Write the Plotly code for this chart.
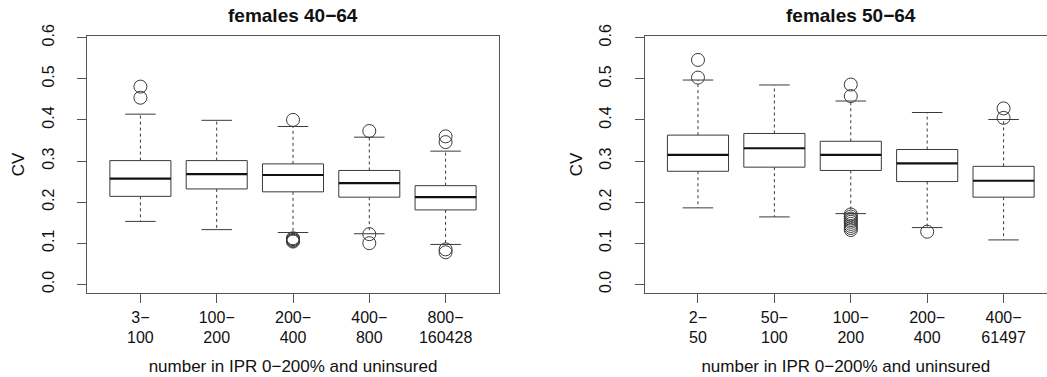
import plotly.graph_objects as go

# ---- data: five-number summaries and outliers per group ----
panel_titles = ["females 40\u221264", "females 50\u221264"]
x_title = "number in IPR 0\u2212200% and uninsured"
y_title = "CV"

labels_40_64 = ["3\u2212<br>100", "100\u2212<br>200", "200\u2212<br>400", "400\u2212<br>800", "800\u2212<br>160428"]
low_40_64 = [0.153, 0.133, 0.126, 0.123, 0.097]
q1_40_64 = [0.214, 0.232, 0.225, 0.212, 0.181]
med_40_64 = [0.257, 0.268, 0.266, 0.246, 0.212]
q3_40_64 = [0.301, 0.301, 0.293, 0.277, 0.240]
high_40_64 = [0.414, 0.399, 0.384, 0.358, 0.324]
out_40_64 = [
    [0.481, 0.454],
    [],
    [0.400, 0.112, 0.110, 0.108, 0.106, 0.104],
    [0.373, 0.122, 0.100],
    [0.360, 0.346, 0.085, 0.078],
]

labels_50_64 = ["2\u2212<br>50", "50\u2212<br>100", "100\u2212<br>200", "200\u2212<br>400", "400\u2212<br>61497"]
low_50_64 = [0.186, 0.164, 0.172, 0.138, 0.108]
q1_50_64 = [0.275, 0.285, 0.277, 0.250, 0.212]
med_50_64 = [0.315, 0.331, 0.315, 0.294, 0.252]
q3_50_64 = [0.363, 0.367, 0.348, 0.328, 0.287]
high_50_64 = [0.497, 0.485, 0.446, 0.418, 0.401]
out_50_64 = [
    [0.546, 0.503],
    [],
    [0.486, 0.458, 0.170, 0.165, 0.160, 0.156, 0.152, 0.147, 0.142, 0.137, 0.132],
    [0.128],
    [0.428, 0.405],
]

FONT = "Liberation Sans, Arial, Helvetica, sans-serif"
LINE = "#3a3a3a"
FRAME = "#555555"
BOX_HALF = 0.4     # boxwex 0.8
CAP_HALF = 0.2     # staple half width

fig = go.Figure()


def add_boxplot(xref, yref, low, q1, med, q3, high, outs):
    n = len(med)
    pos = list(range(1, n + 1))
    bx, by, mx, my, wx, wy, cx, cy, ox, oy = [], [], [], [], [], [], [], [], [], []
    for i, p in enumerate(pos):
        bx += [p - BOX_HALF, p + BOX_HALF, p + BOX_HALF, p - BOX_HALF, p - BOX_HALF, None]
        by += [q1[i], q1[i], q3[i], q3[i], q1[i], None]
        mx += [p - BOX_HALF, p + BOX_HALF, None]
        my += [med[i], med[i], None]
        wx += [p, p, None, p, p, None]
        wy += [q3[i], high[i], None, q1[i], low[i], None]
        cx += [p - CAP_HALF, p + CAP_HALF, None, p - CAP_HALF, p + CAP_HALF, None]
        cy += [high[i], high[i], None, low[i], low[i], None]
        for v in outs[i]:
            ox.append(p)
            oy.append(v)
    common = dict(xaxis=xref, yaxis=yref, showlegend=False, hoverinfo="skip")
    fig.add_trace(go.Scatter(x=wx, y=wy, mode="lines",
                             line=dict(color=LINE, width=1, dash="3px,3px"), **common))
    fig.add_trace(go.Scatter(x=cx, y=cy, mode="lines",
                             line=dict(color=LINE, width=1), **common))
    fig.add_trace(go.Scatter(x=bx, y=by, mode="lines", fill="toself", fillcolor="white",
                             line=dict(color=LINE, width=1), **common))
    fig.add_trace(go.Scatter(x=mx, y=my, mode="lines",
                             line=dict(color="#111111", width=2.2), **common))
    fig.add_trace(go.Scatter(x=ox, y=oy, mode="markers",
                             marker=dict(symbol="circle-open", size=13, color=LINE,
                                         line=dict(color=LINE, width=1)), **common))


add_boxplot("x", "y", low_40_64, q1_40_64, med_40_64, q3_40_64, high_40_64, out_40_64)
add_boxplot("x2", "y2", low_50_64, q1_50_64, med_50_64, q3_50_64, high_50_64, out_50_64)

W, H = 1047, 377
left_dom = [87 / W, 499 / W]
right_dom = [644.5 / W, 1.0]
y_dom = [(H - 293.3) / H, (H - 35.7) / H]

tick_font = dict(family=FONT, size=16, color="#111")
title_font = dict(family=FONT, size=17, color="#111")
y_ticks = [0.0, 0.1, 0.2, 0.3, 0.4, 0.5, 0.6]
y_ticktext = ["0.0", "0.1", "0.2", "0.3", "0.4", "0.5", "0.6"]

xcommon = dict(tickmode="array", tickvals=[1, 2, 3, 4, 5], ticks="outside", ticklen=9,
               tickcolor=FRAME, showline=True, linecolor=FRAME, linewidth=1,
               showgrid=False, zeroline=False, tickfont=tick_font, automargin=False,
               title=dict(text=x_title, font=title_font, standoff=14))
ycommon = dict(tickmode="array", tickvals=y_ticks, ticktext=y_ticktext, ticks="outside",
               ticklen=9, tickcolor=FRAME, showline=True, linecolor=FRAME, linewidth=1,
               showgrid=False, zeroline=False, tickfont=tick_font, tickangle=-90,
               ticklabelstandoff=17, range=[-0.0219, 0.6049], automargin=False,
               title=dict(text=y_title, font=title_font, standoff=10))

fig.update_layout(
    width=W, height=H, margin=dict(l=0, r=0, t=0, b=0, autoexpand=False),
    paper_bgcolor="white", plot_bgcolor="white",
    xaxis=dict(domain=left_dom, range=[0.3, 5.7], ticktext=labels_40_64, mirror=True,
               anchor="y", **xcommon),
    yaxis=dict(domain=y_dom, anchor="x", mirror=True, **ycommon),
    xaxis2=dict(domain=right_dom, range=[0.3, 0.3 + (W - 644.5) / 76.4],
                ticktext=labels_50_64, mirror=True, anchor="y2", **xcommon),
    yaxis2=dict(domain=y_dom, anchor="x2", mirror=False, **ycommon),
    annotations=[
        dict(text="<b>%s</b>" % panel_titles[0], x=sum(left_dom) / 2, y=(H - 15) / H,
             xref="paper", yref="paper", showarrow=False,
             font=dict(family=FONT, size=19, color="#111"), xanchor="center", yanchor="middle"),
        dict(text="<b>%s</b>" % panel_titles[1], x=(644.5 + 5.4 * 76.4 / 2) / W,
             y=(H - 15) / H, xref="paper", yref="paper", showarrow=False,
             font=dict(family=FONT, size=19, color="#111"), xanchor="center", yanchor="middle"),
    ],
)

fig.write_html("out.html")
